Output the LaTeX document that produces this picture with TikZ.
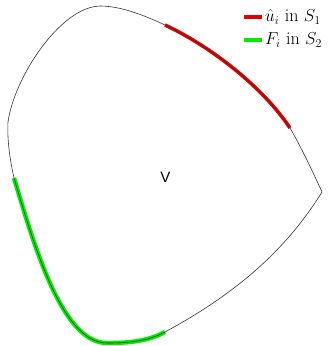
\documentclass[tikz,border=0pt]{standalone}
\usepackage{fontspec}
\usepackage{amsmath,amssymb}
\usetikzlibrary{positioning}
\newfontfamily\helv{Liberation Sans}
\definecolor{SetRed}{RGB}{225,0,0}
\definecolor{SetGreen}{RGB}{0,235,0}
\tikzset{
  rim/.style={draw=black!80,line width=0.6pt},
  redband/.style={draw=SetRed,line width=3.6pt},
  greenband/.style={draw=SetGreen,line width=4.4pt},
  legtext/.style={font=\fontsize{18}{20}\selectfont,inner sep=0pt},
}
\begin{document}
\begin{tikzpicture}[x=1pt,y=-1pt]
\useasboundingbox (0,0) rectangle (330,346);
\coordinate (R) at (322,192); \coordinate (Rb) at (290,128);
\coordinate (Ra) at (165,25); \coordinate (T) at (100,6);
\coordinate (L) at (8,122); \coordinate (Ga) at (14,178);
\coordinate (B) at (107,343); \coordinate (Gb) at (165,332);
% highlighted parts of the boundary
\draw[redband] (Rb) .. controls (262.5,86.5) and (210,46) .. (Ra);
\draw[greenband] (Ga) .. controls (34,245) and (62,343) .. (B)
  .. controls (127,343) and (147.4,341.6) .. (Gb);
% boundary
\draw[rim] (R) .. controls (312,170) and (300,145) .. (Rb)
  .. controls (262.5,86.5) and (210,46) .. (Ra)
  .. controls (142.5,14.5) and (120,6) .. (T)
  .. controls (60,7) and (14,78) .. (L)
  .. controls (7,140) and (10,160) .. (Ga)
  .. controls (34,245) and (62,343) .. (B)
  .. controls (127,343) and (147.4,341.6) .. (Gb)
  .. controls (235,294) and (285,251.5) .. (R) -- cycle;
\node[font=\helv\fontsize{15}{17}\selectfont] (vlab) at (165.5,177) {V};
% legend
\coordinate (k1) at (244,17); \coordinate (k1e) at (262,17);
\coordinate (k2) at (244,40); \coordinate (k2e) at (262,40);
\draw[redband] (k1) -- (k1e);
\draw[greenband] (k2) -- (k2e);
\node[legtext,right=3pt of k1e] (lab1) {$\hat{u}_i$ in $S_1$};
\node[legtext,right=3pt of k2e] (lab2) {$F_i$ in $S_2$};
\end{tikzpicture}
\end{document}
